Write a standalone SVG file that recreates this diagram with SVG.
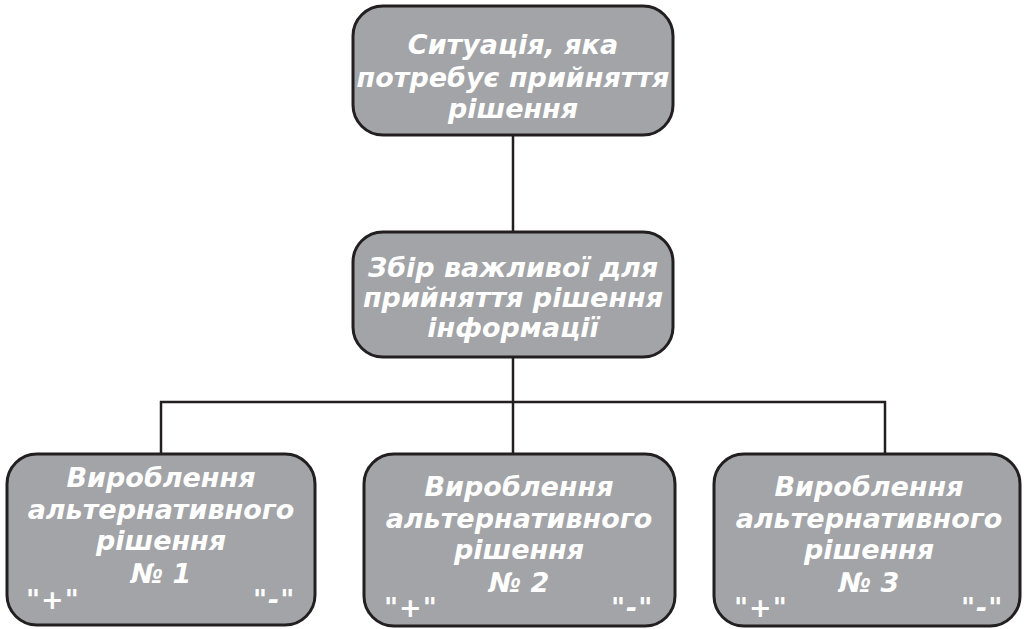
<svg xmlns="http://www.w3.org/2000/svg" width="1025" height="629" viewBox="0 0 1025 629">
<style>
.box{fill:#a3a4a7;stroke:#231f20;stroke-width:3}
.t{font-family:"DejaVu Sans",Verdana,sans-serif;font-weight:bold;font-style:italic;font-size:27px;fill:#ffffff;text-anchor:middle}
.s{text-anchor:start;letter-spacing:1px}
.c{stroke:#231f20;stroke-width:2.5;fill:none}
</style>
<rect width="1025" height="629" fill="#ffffff"/>
<g id="connectors">
<line class="c" x1="513" y1="135" x2="513" y2="232"/>
<line class="c" x1="513" y1="357" x2="513" y2="454"/>
<line class="c" x1="160" y1="402" x2="886" y2="402"/>
<line class="c" x1="161" y1="401" x2="161" y2="454"/>
<line class="c" x1="885" y1="401" x2="885" y2="454"/>
</g>
<g id="n1">
<rect class="box" x="353" y="6" width="320" height="129" rx="30"/>
<text class="t" x="513" y="54">Ситуація, яка</text>
<text class="t" x="513" y="87">потребує прийняття</text>
<text class="t" x="513" y="118">рішення</text>
</g>
<g id="n2">
<rect class="box" x="353" y="232" width="320" height="125" rx="30"/>
<text class="t" x="513" y="277">Збір важливої для</text>
<text class="t" x="513" y="307">прийняття рішення</text>
<text class="t" x="513" y="337">інформації</text>
</g>
<g id="n3">
<rect class="box" x="7" y="454" width="308" height="171" rx="30"/>
<text class="t" x="161" y="487">Вироблення</text>
<text class="t" x="161" y="519">альтернативного</text>
<text class="t" x="161" y="550">рішення</text>
<text class="t" x="161" y="583">№ 1</text>
<text class="t s" x="26" y="609">"+"</text>
<text class="t s" x="253" y="609">"-"</text>
</g>
<g id="n4">
<rect class="box" x="364" y="454" width="311" height="172" rx="30"/>
<text class="t" x="519" y="496">Вироблення</text>
<text class="t" x="519" y="528">альтернативного</text>
<text class="t" x="519" y="559">рішення</text>
<text class="t" x="519" y="592">№ 2</text>
<text class="t s" x="384" y="617">"+"</text>
<text class="t s" x="611" y="617">"-"</text>
</g>
<g id="n5">
<rect class="box" x="714" y="454" width="306" height="172" rx="30"/>
<text class="t" x="869" y="496">Вироблення</text>
<text class="t" x="869" y="528">альтернативного</text>
<text class="t" x="869" y="559">рішення</text>
<text class="t" x="869" y="592">№ 3</text>
<text class="t s" x="734" y="617">"+"</text>
<text class="t s" x="961" y="617">"-"</text>
</g>
</svg>
